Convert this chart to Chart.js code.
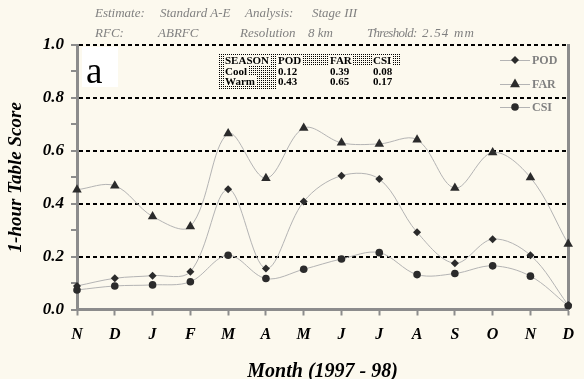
<!DOCTYPE html>
<html>
<head>
<meta charset="utf-8">
<script src="https://cdn.jsdelivr.net/npm/chart.js@4/dist/chart.umd.min.js"></script>
<style>
  html,body{margin:0;padding:0;background:#fcf9ee;}
  #wrap{position:relative;width:584px;height:379px;overflow:hidden;background:#fcf9ee;}
  canvas{position:absolute;left:0;top:0;}
  .hdr{position:absolute;font:italic 13px "Liberation Serif","Times New Roman",serif;color:#808080;white-space:nowrap;line-height:14px;}
  #abox{position:absolute;left:82px;top:47px;width:36px;height:40px;background:#ffffff;}
  #abox span{position:absolute;left:4px;top:2px;font:37px/44px "Liberation Serif","Times New Roman",serif;color:#000;}
  #tbl{position:absolute;left:219px;top:54px;width:182px;height:36px;}
  .dots{position:absolute;}
  .tc{position:absolute;font:bold 11px "Liberation Serif","Times New Roman",serif;color:#000;background:#fcf9ee;line-height:10px;white-space:nowrap;padding:0 1px;}
</style>
</head>
<body>
<div id="wrap">
  <canvas id="c" width="584" height="379"></canvas>
  <div id="hdrs"></div>
  <div id="abox"><span>a</span></div>
  <div id="tbl"></div>
</div>
<script>
// ---- data ----
const months = ['N','D','J','F','M','A','M','J','J','A','S','O','N','D'];
const pod = [0.089,0.118,0.128,0.143,0.455,0.155,0.408,0.506,0.493,0.292,0.175,0.266,0.205,0.017];
const far = [0.453,0.468,0.352,0.314,0.665,0.496,0.686,0.630,0.626,0.642,0.459,0.594,0.499,0.248];
const csi = [0.074,0.089,0.093,0.105,0.205,0.117,0.152,0.191,0.215,0.132,0.136,0.165,0.126,0.014];
const seriesNames = ['POD','FAR','CSI'];
const headerRow1 = ['Estimate:','Standard A-E','Analysis:','Stage III'];
const headerRow2 = ['RFC:','ABRFC','Resolution','8 km','Threshold:','2.54 mm'];
const tableHead = ['SEASON','POD','FAR','CSI'];
const tableCool = ['Cool','0.12','0.39','0.08'];
const tableWarm = ['Warm','0.43','0.65','0.17'];
const yTitle = '1-hour Table Score';
const xTitle = 'Month (1997 - 98)';

// ---- header text (HTML) ----
const hdrs = document.getElementById('hdrs');
const r1x = [95,160,245,312], r2x = [95,158,240,308,367,422];
headerRow1.forEach((t,i)=>{const d=document.createElement('div');d.className='hdr';d.style.left=r1x[i]+'px';d.style.top='6px';d.textContent=t;hdrs.appendChild(d);});
headerRow2.forEach((t,i)=>{const d=document.createElement('div');d.className='hdr';d.style.left=r2x[i]+'px';d.style.top='26px';d.textContent=t;
  if(i===4) d.style.letterSpacing='-0.7px';
  if(i===5) d.style.letterSpacing='1.2px';
  hdrs.appendChild(d);});

// ---- inset table ----
const pc = document.createElement('canvas'); pc.width=2; pc.height=2;
const pctx = pc.getContext('2d'); pctx.fillStyle='#000'; pctx.fillRect(0,0,1,1);
const dotUrl = 'url(' + pc.toDataURL() + ')';
const tbl = document.getElementById('tbl');
function addDots(l,t,w,h){const d=document.createElement('div');d.className='dots';
  Object.assign(d.style,{left:l+'px',top:t+'px',width:w+'px',height:h+'px',backgroundImage:dotUrl});tbl.appendChild(d);}
addDots(0,0,182,12);   // header row
addDots(0,0,57,36);    // season column
const colX = [5,58,110,153];
const rowY = [1,12,22];
[tableHead,tableCool,tableWarm].forEach((row,ri)=>{
  row.forEach((t,ci)=>{
    const d=document.createElement('div');d.className='tc';
    d.style.left=colX[ci]+'px';d.style.top=rowY[ri]+'px';d.textContent=t;tbl.appendChild(d);
  });
});

const serifBI = {family:'"Liberation Serif","Times New Roman",serif', weight:'bold', style:'italic'};
const markerColor = '#2b2b2b';
const lineColor = '#b4b4b4';

function drawMarker(ctx, style, r, x, y){
  ctx.save();
  ctx.fillStyle = markerColor;
  ctx.beginPath();
  if (style === 'rectRot'){
    ctx.moveTo(x, y-r); ctx.lineTo(x+r, y); ctx.lineTo(x, y+r); ctx.lineTo(x-r, y); ctx.closePath();
  } else if (style === 'triangle'){
    ctx.moveTo(x, y-r); ctx.lineTo(x+r*0.9, y+r*0.6); ctx.lineTo(x-r*0.9, y+r*0.6); ctx.closePath();
  } else {
    ctx.arc(x, y, r, 0, Math.PI*2);
  }
  ctx.fill();
  ctx.restore();
}

const legendPlugin = {
  id:'customLegend',
  afterDatasetsDraw(chart){
    const ctx = chart.ctx;
    const ys = [60, 84, 107];
    chart.data.datasets.forEach((ds,i)=>{
      const y = ys[i];
      ctx.save();
      ctx.strokeStyle = lineColor; ctx.lineWidth = 1;
      ctx.beginPath(); ctx.moveTo(500, y+0.5); ctx.lineTo(530, y+0.5); ctx.stroke();
      drawMarker(ctx, ds.pointStyle, ds.pointRadius, 515, y);
      ctx.fillStyle = '#808080';
      ctx.font = 'bold 12px "Liberation Serif","Times New Roman",serif';
      ctx.textBaseline = 'middle';
      ctx.fillText(ds.label, 532, y+1);
      ctx.restore();
    });
  }
};

const bgPlugin = {
  id:'bg',
  beforeDraw(chart){
    const ctx = chart.ctx;
    ctx.save(); ctx.fillStyle = '#fcf9ee'; ctx.fillRect(0,0,chart.width,chart.height); ctx.restore();
  }
};

function isMajor(v){ return Math.round(v*10) % 2 === 0; }

new Chart(document.getElementById('c'), {
  type:'line',
  data:{
    labels: months,
    datasets:[
      {label:seriesNames[0], data:pod, pointStyle:'rectRot', pointRadius:4},
      {label:seriesNames[1], data:far, pointStyle:'triangle', pointRadius:5.5},
      {label:seriesNames[2], data:csi, pointStyle:'circle', pointRadius:3.8}
    ].map(d=>Object.assign({
      borderColor:lineColor, borderWidth:1, tension:0.35,
      pointBackgroundColor:markerColor, pointBorderColor:markerColor, pointBorderWidth:0,
      fill:false, yAxisID:'y'
    }, d))
  },
  options:{
    responsive:false, animation:false,
    layout:{padding:{left:0,right:0,top:45,bottom:0}},
    plugins:{legend:{display:false}, tooltip:{enabled:false}},
    elements:{point:{hoverRadius:4}},
    scales:{
      x:{
        type:'category', offset:false,
        grid:{drawOnChartArea:false, drawTicks:true, tickLength:6, tickColor:'#8c8c8c', tickWidth:2},
        border:{color:'#8c8c8c', width:3},
        ticks:{color:'#000', font:Object.assign({size:16}, serifBI), padding:10, maxRotation:0, autoSkip:false},
        title:{display:true, text:xTitle, color:'#000', font:Object.assign({size:20, lineHeight:1.0}, serifBI), padding:{top:0,bottom:-3}},
        afterFit(s){ s.height = 69.5; }
      },
      y:{
        position:'left', min:0, max:1,
        grid:{
          color:(c)=> (c.tick && c.tick.value>0.01 && isMajor(c.tick.value)) ? '#000' : 'rgba(0,0,0,0)',
          lineWidth:2, drawTicks:true, tickLength:6, tickColor:'#8c8c8c', tickWidth:2
        },
        border:{color:'#8c8c8c', width:3, dash:[4,3]},
        ticks:{stepSize:0.1, color:'#000', font:Object.assign({size:17}, serifBI), padding:7,
               callback:(v)=> isMajor(v) ? v.toFixed(1) : ''},
        title:{display:true, text:yTitle, color:'#000', font:Object.assign({size:19}, serifBI), padding:{top:5,bottom:0}},
        afterFit(s){ s.width = 77; }
      },
      y2:{
        position:'right', min:0, max:1, display:true,
        grid:{drawOnChartArea:false, drawTicks:false},
        border:{color:'#8c8c8c', width:3},
        ticks:{display:false},
        afterFit(s){ s.width = 11; }
      }
    }
  },
  plugins:[bgPlugin, legendPlugin]
});
</script>
</body>
</html>
